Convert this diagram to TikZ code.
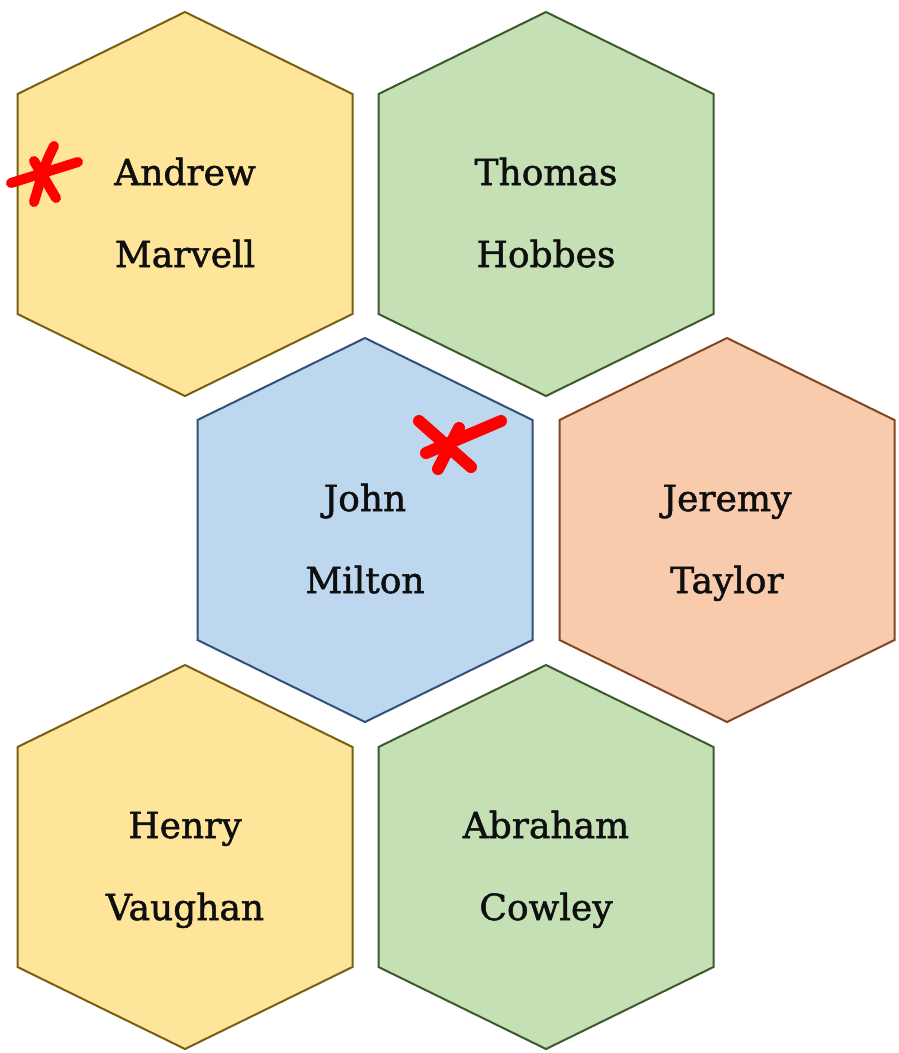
\documentclass[tikz,border=0pt]{standalone}
\usepackage{fontspec}
\setmainfont{DejaVu Serif}
\newfontfamily\poetfont[FakeBold=1.4]{DejaVu Serif}
\usetikzlibrary{positioning,calc}
\definecolor{cyelfill}{RGB}{255,229,153}
\definecolor{cyeldraw}{RGB}{120,95,20}
\definecolor{cgrnfill}{RGB}{197,224,180}
\definecolor{cgrndraw}{RGB}{60,90,45}
\definecolor{cblufill}{RGB}{189,215,238}
\definecolor{cbludraw}{RGB}{50,80,120}
\definecolor{corgfill}{RGB}{248,203,173}
\definecolor{corgdraw}{RGB}{130,70,35}
\definecolor{cink}{RGB}{15,15,15}

\begin{document}
\begin{tikzpicture}[x=1pt,y=-1pt,
    hexcell/.style={line width=2pt, line join=miter},
    yel/.style={hexcell, fill=cyelfill, draw=cyeldraw},
    grn/.style={hexcell, fill=cgrnfill, draw=cgrndraw},
    blu/.style={hexcell, fill=cblufill, draw=cbludraw},
    org/.style={hexcell, fill=corgfill, draw=corgdraw},
    poet/.style={font=\poetfont\fontsize{36}{44}\selectfont, text=cink, anchor=base, inner sep=0pt},
    redstroke/.style={red, line width=10pt, line cap=round, line join=round}]
  \useasboundingbox (0,0) rectangle (898,1053);
  % hexagons and names
  \foreach \cx/\cy/\kind/\first/\second/\nm in {
      185/204/yel/Andrew/Marvell/marvell,
      546/204/grn/Thomas/Hobbes/hobbes,
      365/530/blu/John/Milton/milton,
      727/530/org/Jeremy/Taylor/taylor,
      185/857/yel/Henry/Vaughan/vaughan,
      546/857/grn/Abraham/Cowley/cowley}{
    \draw[\kind] (\cx,\cy) ++(0,-192) -- ++(167.5,82) -- ++(0,220)
      -- ++(-167.5,82) -- ++(-167.5,-82) -- ++(0,-220) -- cycle;
    \node[poet] (\nm-a) at (\cx,\cy-19) {\first};
    \node[poet] (\nm-b) at ($(\nm-a.base)+(0,82)$) {\second};
  }
  % red marks
  \draw[redstroke] (11,183) -- (78,162);
  \draw[redstroke] (34,161) -- (56,198);
  \draw[redstroke] (54,146) .. controls (46,162) .. (34,202);
  \draw[redstroke, line width=12pt] (419,421) -- (471,467);
  \draw[redstroke, line width=12pt] (426,453) -- (501,421);
  \draw[redstroke, line width=12pt] (459,428) -- (438,469);
\end{tikzpicture}
\end{document}
